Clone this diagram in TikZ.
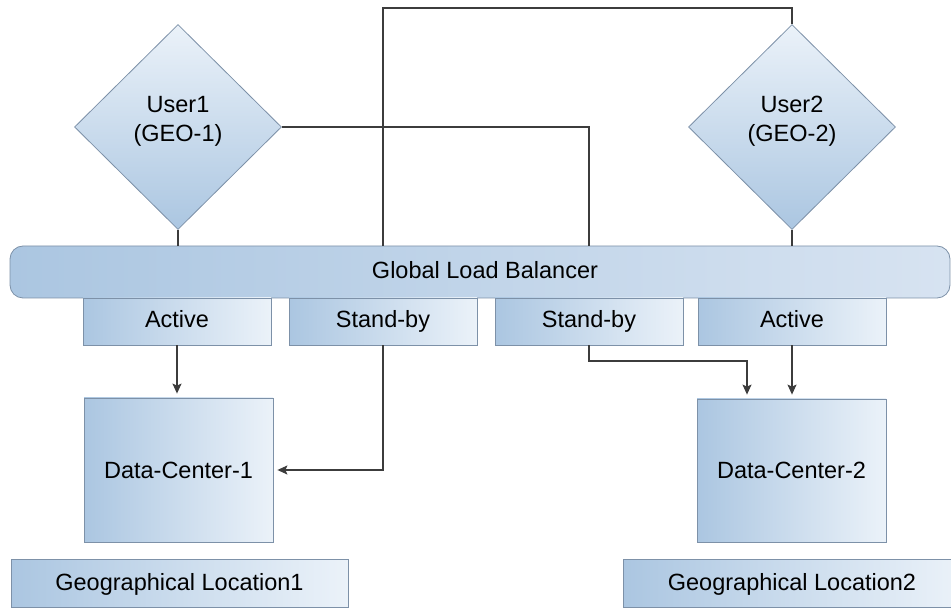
\documentclass[tikz,border=0pt]{standalone}
\usepackage{fontspec}
\setmainfont{Liberation Sans}
\usetikzlibrary{shapes.geometric,arrows.meta}
\definecolor{bdark}{HTML}{ABC6E1}
\definecolor{blight}{HTML}{EBF2F9}
\definecolor{bmid}{HTML}{D7E3F1}
\definecolor{edgec}{HTML}{7D91A8}
\definecolor{linec}{HTML}{3C3C3C}
\tikzset{
  utxt/.style={font=\fontsize{23.5}{29}\selectfont, align=center, text=black},
  txt/.style={font=\fontsize{23.5}{29}\selectfont, text=black, inner sep=0pt, text height=16.8pt, text depth=0pt},
  usr/.style={diamond, draw=edgec, line width=0.8pt, inner sep=0pt, minimum width=207pt, minimum height=205pt, shade, top color=blight, bottom color=bdark},
  boxa/.style={rectangle, draw=edgec, line width=0.8pt, inner sep=0pt, shade, shading angle=60, left color=bdark, right color=blight},
  conn/.style={draw=linec, line width=1.2pt},
  arr/.style={conn, -{Stealth[length=10pt,width=9pt,inset=2pt]}, shorten >=4pt},
}
\begin{document}
\begin{tikzpicture}[x=1pt,y=-1pt]
\useasboundingbox (0,0) rectangle (951,609);
% users
\node[usr] (u1) at (178,127) {};
\node[usr] (u2) at (792,127) {};
\node[utxt] (u1t) at (178,121) {User1\\(GEO-1)};
\node[utxt] (u2t) at (792,121) {User2\\(GEO-2)};
% load balancer
\node[rectangle, rounded corners=13pt, draw=edgec, line width=0.8pt, shade, left color=bdark, right color=bmid, minimum width=940pt, minimum height=52pt, inner sep=0pt] (glb) at (480,272) {};
\node[txt] (glbt) at (485,270) {Global Load Balancer};
% mode boxes
\node[boxa, minimum width=188pt, minimum height=47pt] (a1) at (177,321.5) {};
\node[txt] at ([yshift=2pt]a1.center) {Active};
\node[boxa, minimum width=188pt, minimum height=47pt] (sb1) at (383,321.5) {};
\node[txt] at ([yshift=2pt]sb1.center) {Stand-by};
\node[boxa, minimum width=188pt, minimum height=47pt] (sb2) at (589,321.5) {};
\node[txt] at ([yshift=2pt]sb2.center) {Stand-by};
\node[boxa, minimum width=188pt, minimum height=47pt] (a2) at (792,321.5) {};
\node[txt] at ([yshift=2pt]a2.center) {Active};
% data centers
\node[boxa, minimum width=189pt, minimum height=144pt] (dc1) at (178.5,470) {};
\node[txt] at (dc1) {Data-Center-1};
\node[boxa, minimum width=189pt, minimum height=143pt] (dc2) at (791.5,470.5) {};
\node[txt] at (dc2) {Data-Center-2};
% locations
\node[boxa, minimum width=337pt, minimum height=48pt] (g1) at (179.5,583) {};
\node[txt] at ([yshift=1pt]g1.center) {Geographical Location1};
\node[boxa, minimum width=338pt, minimum height=48pt] (g2) at (792,583) {};
\node[txt] at ([yshift=1pt]g2.center) {Geographical Location2};
% connectors
\coordinate (t1) at (383,8);
\coordinate (k1) at (747,361);
\draw[conn] (u1.south) -- (u1.south |- glb.north);
\draw[conn] (u2.south) -- (u2.south |- glb.north);
\draw[conn] (u2.north) |- (t1) -- (t1 |- glb.north);
\draw[conn] (u1.east) -| (sb2.center |- glb.north);
\draw[arr] (a1.south) -- (dc1.north -| a1.south);
\draw[arr] (sb1.south) |- (dc1.east);
\draw[arr] (sb2.south) |- (k1) -- (k1 |- dc2.north);
\draw[arr] (a2.south) -- (a2.south |- dc2.north);
\end{tikzpicture}
\end{document}
